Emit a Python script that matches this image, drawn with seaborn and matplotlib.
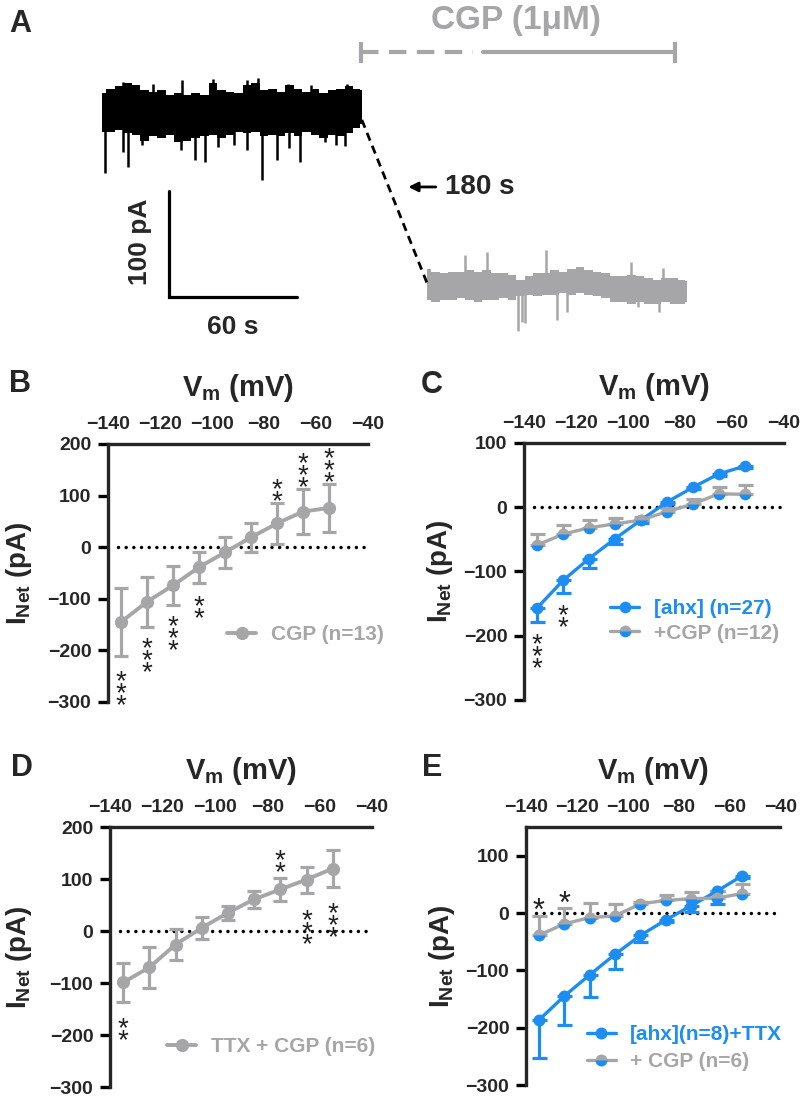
import matplotlib
matplotlib.use("Agg")
import matplotlib.pyplot as plt
import seaborn as sns

GRAY = "#a6a6a8"
BLUE = "#1c8ef3"

# ---------------- panel A : example recording (s, pA)
ctl_t = [0, 4, 8, 12, 16, 20, 24, 28, 32, 36, 40, 44, 48, 52, 56, 60,
         64, 68, 72, 76, 80, 84, 88, 92, 96, 100, 104, 108, 112, 116, 120, 122]
ctl_hi = [19, 23, 25, 28, 26, 22, 20, 22, 17, 19, 17, 19, 17, 28, 22, 20,
          19, 26, 28, 22, 23, 20, 26, 23, 20, 23, 19, 22, 23, 25, 23, 22]
ctl_lo = [-18, -18, -16, -19, -21, -26, -22, -24, -21, -27, -26, -24, -22, -21, -24, -21,
          -18, -19, -18, -22, -21, -22, -19, -22, -18, -21, -24, -21, -22, -19, -14, -10]
ctl_spike_t = [1.4, 10, 12.4, 19, 37, 43.7, 48.4, 54.6, 62, 68, 75, 82, 88, 93, 104.7, 110, 114,
               10, 24, 37.4, 52.3, 68, 73.4, 87.5, 98, 115]
ctl_spike_i = [-57, -37, -51, -30, -35, -44, -46, -32, -30, -35, -63, -44, -33, -46, -27, -30, -31,
               29, 27, 31, 32, 31, 33, 27, 26, 27]

cgp_t = [152.5, 156.5, 160.5, 164.5, 168.5, 172.5, 176.5, 180.5, 184.5, 188.5, 192.5,
         196.5, 200.5, 204.5, 208.5, 212.5, 216.5, 220.5, 224.5, 228.5, 232.5, 236.5,
         240.5, 244.5, 248.5, 252.5, 256.5, 260.5, 264.5, 268.5, 272.5, 274.5]
cgp_hi = [-147, -150, -151, -150, -150, -148, -150, -148, -151, -151, -153, -158, -154, -151,
          -151, -148, -150, -147, -145, -148, -150, -151, -154, -154, -153, -154, -156, -158,
          -156, -156, -158, -159]
cgp_lo = [-176, -178, -176, -176, -175, -176, -178, -176, -176, -175, -176, -173, -172, -173,
          -172, -172, -170, -172, -170, -172, -173, -175, -178, -178, -180, -178, -180, -180,
          -178, -180, -180, -178]
cgp_spike_t = [170.4, 180.6, 208.5, 248.2, 263.2, 195.5, 197, 198.6, 213.5, 218.2, 251.8, 261.6]
cgp_spike_i = [-134, -131, -129, -141, -146, -206, -197, -198, -195, -188, -183, -188]
ctl_base = 0
cgp_base = -162

# ---------------- I-V data (mean, sem) in pA
vm = [-135, -125, -115, -105, -95, -85, -75, -65, -55]

b_cgp = [-145, -106, -74, -39, -10, 19, 46, 69, 76]
b_cgp_sem = [66, 49, 38, 30, 30, 28, 39, 43, 47]

c_ahx = [-157, -114, -80, -49, -20, 8, 31, 52, 64]
c_ahx_sem = [22, 20, 15, 8, 4, 3, 3, 3, 3]
c_cgp = [-59, -42, -32, -26, -20, -7, 5, 21, 20]
c_cgp_sem = [18, 15, 12, 9, 5, 6, 8, 11, 14]

d_ttx_cgp = [-99, -70, -26, 6, 35, 61, 80, 99, 120]
d_ttx_cgp_sem = [37, 39, 29, 21, 14, 16, 22, 25, 35]

e_ahx = [-187, -145, -108, -72, -39, -12, 13, 38, 65]
e_ahx_sem = [65, 50, 38, 25, 12, 4, 11, 22, 4]
e_cgp = [-39, -19, -8, -5, 16, 22, 25, 26, 34]
e_cgp_sem = [34, 28, 26, 21, 4, 9, 11, 13, 17]

# significance marks: (Vm, stars, centre of the star nearest the point, stack direction)
b_stars = [(-135, 3, -245, -1), (-125, 3, -181, -1), (-115, 3, -139, -1), (-105, 2, -100, -1),
           (-75, 2, 105, 1), (-65, 3, 132, 1), (-55, 3, 142, 1)]
c_stars = [(-135, 3, -201, -1), (-125, 2, -156, -1)]
d_stars = [(-135, 2, -173, -1), (-75, 2, 129, 1), (-65, 3, 35, -1), (-55, 3, 48, -1)]
e_stars = [(-135, 1, 20, -1), (-125, 1, 32, -1)]

sns.set_theme(style="ticks")
plt.rcParams["font.family"] = ["Liberation Sans", "DejaVu Sans"]
plt.rcParams["font.weight"] = "bold"
plt.rcParams["axes.labelweight"] = "bold"
plt.rcParams["mathtext.fontset"] = "custom"
plt.rcParams["mathtext.rm"] = "Liberation Sans:bold"
plt.rcParams["mathtext.it"] = "Liberation Sans:bold"
plt.rcParams["mathtext.bf"] = "Liberation Sans:bold"

fig = plt.figure(figsize=(8, 11.03), dpi=100)

# ---------------- panel A
axA = fig.add_axes([0, 1 - 340 / 1103, 1, 340 / 1103])
axA.set_xlim(-47.9, 327.7)
axA.set_ylim(-214.2, 106.6)
axA.axis("off")
axA.fill_between(ctl_t, ctl_lo, ctl_hi, step="mid", color="black", lw=0)
axA.vlines(ctl_spike_t, ctl_base, ctl_spike_i, color="black", lw=1.8)
axA.fill_between(cgp_t, cgp_lo, cgp_hi, step="mid", color=GRAY, lw=0)
axA.vlines(cgp_spike_t, cgp_base, cgp_spike_i, color=GRAY, lw=1.8)
axA.plot([ctl_t[-1], cgp_t[0]], [-6.6, cgp_base + 2], color="black", lw=2, dashes=(3, 2))
# scale bar
axA.plot([31.5, 31.5, 91.5], [-73.6, -173.6, -173.6], color="black", lw=2.3,
         solid_joinstyle="miter")
axA.text(17.8, -121.7, "100 pA", rotation=90, ha="center", va="center", fontsize=19)
axA.text(61.5, -202, "60 s", ha="center", va="center", fontsize=19)
axA.annotate("", xy=(142.5, -69.8), xytext=(158, -69.8),
             arrowprops=dict(arrowstyle="-|>", lw=2, color="black", mutation_scale=14))
axA.text(161, -69.8, "180 s", ha="left", va="center", fontsize=20)
# drug application bar
axA.plot([121.6, 174.2], [57.5, 57.5], color=GRAY, lw=3, dashes=(4.2, 2.5))
axA.plot([178.9, 269], [57.5, 57.5], color=GRAY, lw=3)
axA.vlines([121.6, 269], 47, 67, color=GRAY, lw=3)
axA.text(194.4, 86.8, "CGP (1\u03bcM)", ha="center", va="center", fontsize=24, color=GRAY)


def iv_axes(rect, ylim, yticks):
    ax = fig.add_axes(rect)
    ax.set_xlim(-140, -40)
    ax.set_ylim(*ylim)
    ax.set_xticks([-140, -120, -100, -80, -60, -40])
    ax.set_yticks(yticks)
    ax.xaxis.tick_top()
    sns.despine(ax=ax, top=False, right=True, bottom=True, left=False)
    for s in ("top", "left"):
        ax.spines[s].set_linewidth(2.4)
    ax.tick_params(axis="both", direction="out", length=7, width=2.4,
                   labelsize=14, color="black")
    ax.tick_params(axis="x", pad=1)
    ax.tick_params(axis="y", pad=5)
    ax.hlines(0, -136, -40, colors="black", lw=2.5, linestyles=(0, (0.01, 2.2)),
              capstyle="round", zorder=1)
    ax.annotate(r"V$_\mathregular{m}$ (mV)", xy=(0.5, 1), xycoords="axes fraction",
                xytext=(0, 40), textcoords="offset points", ha="center", va="center",
                fontsize=21)
    return ax


def series(ax, mean, sem, color, label, side="both", alt=None, ms=9.5, lw=2.8, cap=4.7):
    zeros = [0] * len(sem)
    if side == "down":
        yerr = [sem, zeros]
    elif side == "up":
        yerr = [zeros, sem]
    else:
        yerr = [sem, sem]
    ax.errorbar(vm, mean, yerr=yerr, fmt="none", ecolor=color, elinewidth=2.3,
                capsize=cap, capthick=2.3, zorder=2)
    kw = {}
    if alt is not None:
        kw = dict(fillstyle="top", markerfacecoloralt=alt)
    sns.lineplot(x=vm, y=mean, ax=ax, color=color, marker="o", markersize=ms,
                 linewidth=lw, markeredgewidth=0, label=label, zorder=3, **kw)


def stars(ax, marks, size=20):
    # one text per stack; the star glyph sits ~0.58 em above the baseline
    for x, n, y0, d in marks:
        if d < 0:
            ax.annotate("\n".join("*" * n), xy=(x, y0), xytext=(0, 3.2),
                        textcoords="offset points", ha="center", va="top",
                        fontsize=size, fontweight="normal", color="#202020",
                        linespacing=0.3)
        else:
            ax.annotate("\n".join("*" * n), xy=(x, y0), xytext=(0, -11.6),
                        textcoords="offset points", ha="center", va="baseline",
                        fontsize=size, fontweight="normal", color="#202020",
                        linespacing=0.3)


def finish(ax, ylab_x, leg_xy, colors, fontsize=15, spacing=0.25):
    ax.set_xlabel("")
    ax.set_ylabel("")
    ax.text(ylab_x, 0.5, r"I$_\mathregular{Net}$ (pA)", rotation=90, ha="center",
            va="center", transform=ax.transAxes, fontsize=20)
    leg = ax.legend(loc="center left", bbox_to_anchor=leg_xy, frameon=False,
                    fontsize=fontsize, handlelength=1.4, handletextpad=0.7,
                    borderpad=0, borderaxespad=0, labelspacing=spacing)
    for t, c in zip(leg.get_texts(), colors):
        t.set_color(c)
        t.set_fontweight("bold")


# ---------------- panel B
axB = iv_axes([0.135, 0.3636, 0.325, 0.2339], (-300, 200), [-300, -200, -100, 0, 100, 200])
series(axB, b_cgp, b_cgp_sem, GRAY, "CGP (n=13)")
stars(axB, b_stars)
finish(axB, -0.342, (0.458, 0.26), [GRAY])

# ---------------- panel C
axC = iv_axes([0.655, 0.3654, 0.325, 0.233], (-300, 100), [-300, -200, -100, 0, 100])
series(axC, c_ahx, c_ahx_sem, BLUE, "[ahx] (n=27)", side="down", ms=8.4, lw=2.4, cap=5.4)
series(axC, c_cgp, c_cgp_sem, GRAY, "+CGP (n=12)", side="up", alt=BLUE, ms=8.4, lw=2.4, cap=5.4)
stars(axC, c_stars)
finish(axC, -0.324, (0.332, 0.307), [BLUE, GRAY])

# ---------------- panel D
axD = iv_axes([0.1375, 0.0145, 0.3275, 0.2357], (-300, 200), [-300, -200, -100, 0, 100, 200])
series(axD, d_ttx_cgp, d_ttx_cgp_sem, GRAY, "TTX + CGP (n=6)")
stars(axD, d_stars)
finish(axD, -0.347, (0.218, 0.154), [GRAY])

# ---------------- panel E
axE = iv_axes([0.6575, 0.0163, 0.318, 0.2339], (-300, 150), [-300, -200, -100, 0, 100])
series(axE, e_ahx, e_ahx_sem, BLUE, "[ahx](n=8)+TTX", side="down", ms=8.6, lw=2.4, cap=5.4)
series(axE, e_cgp, e_cgp_sem, GRAY, "+ CGP (n=6)", side="up", alt=BLUE, ms=8.6, lw=2.4, cap=5.4)
stars(axE, e_stars, size=22)
finish(axE, -0.332, (0.238, 0.143), [BLUE, GRAY], spacing=0.4)

for letter, x, y in [("A", 20, 24), ("B", 20, 384), ("C", 432, 385), ("D", 22, 768), ("E", 432, 768)]:
    fig.text(x / 800, 1 - y / 1103, letter, fontsize=22, ha="center", va="center",
             fontweight="bold")

fig.savefig("out.png", dpi=100, facecolor="white")
